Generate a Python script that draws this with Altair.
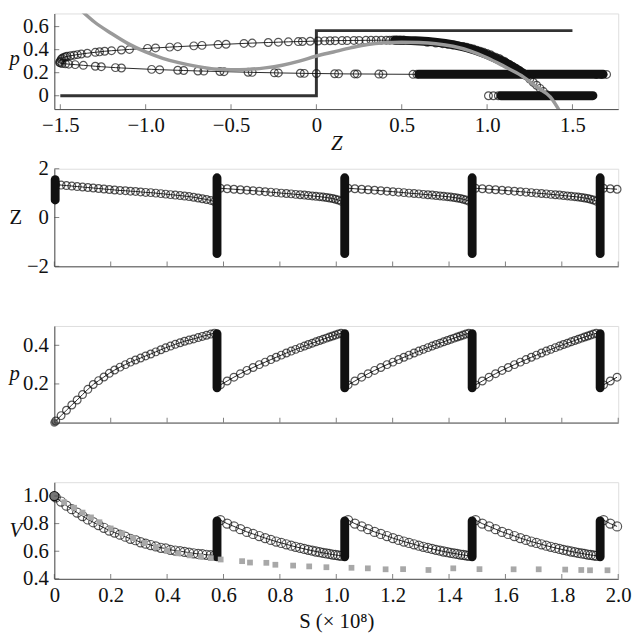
import altair as alt
import pandas as pd

FONT = "Liberation Serif"
FS = 21
INK = "#111111"
AXC = "#4a4a4a"
GRAY = "#9a9a9a"
W = 572

# ---------------- Panel 1 : phase plane (Z, p) ----------------
p1_xticks = [-1.5, -1.0, -0.5, 0.0, 0.5, 1.0, 1.5]
p1_yticks = [0.0, 0.2, 0.4, 0.6]

step_Z = [-1.5, 0.0, 0.0, 1.5]
step_p = [0.0, 0.0, 0.565, 0.565]

null_Z = [-1.37, -1.30, -1.20, -1.10, -1.00, -0.90, -0.80, -0.70, -0.60, -0.50,
          -0.40, -0.30, -0.20, -0.10, 0.00, 0.10, 0.20, 0.30, 0.40, 0.50,
          0.60, 0.70, 0.80, 0.90, 1.00, 1.10, 1.20, 1.30, 1.37, 1.42]
null_p = [0.73, 0.64, 0.54, 0.45, 0.38, 0.325, 0.285, 0.255, 0.232, 0.226,
          0.229, 0.242, 0.265, 0.30, 0.345, 0.38, 0.415, 0.445, 0.46, 0.465,
          0.462, 0.452, 0.43, 0.39, 0.33, 0.255, 0.175, 0.065, -0.01, -0.12]

upper_Z = [-1.50, -1.495, -1.49, -1.48, -1.47, -1.46, -1.44, -1.42, -1.40, -1.377,
           -1.342, -1.295, -1.27, -1.24, -1.20, -1.142, -1.095, -0.989, -0.942, -0.859,
           -0.812, -0.718, -0.67, -0.576, -0.529, -0.424, -0.376, -0.282, -0.223, -0.164,
           -0.106, -0.082, -0.036, 0.01, 0.048, 0.08, 0.11, 0.15, 0.18, 0.22,
           0.25, 0.29, 0.32, 0.35, 0.38, 0.41, 0.43, 0.45, 0.47, 0.49, 0.51]
upper_p = [0.30, 0.315, 0.325, 0.333, 0.338, 0.342, 0.347, 0.352, 0.357, 0.362,
           0.369, 0.377, 0.381, 0.386, 0.391, 0.397, 0.402, 0.411, 0.415, 0.422,
           0.426, 0.433, 0.437, 0.444, 0.447, 0.454, 0.457, 0.462, 0.465, 0.468,
           0.470, 0.471, 0.473, 0.475, 0.476, 0.477, 0.478, 0.479, 0.479, 0.480,
           0.480, 0.481, 0.481, 0.482, 0.482, 0.482, 0.482, 0.483, 0.483, 0.483, 0.483]

lower_Z = [-1.505, -1.50, -1.49, -1.47, -1.45, -1.413, -1.365, -1.295, -1.26, -1.177,
           -1.142, -0.965, -0.918, -0.812, -0.777, -0.694, -0.659, -0.565, -0.541, -0.40,
           -0.376, -0.246, -0.223, -0.094, -0.071, 0.0, 0.107, 0.13, 0.224, 0.239,
           0.366, 0.39, 0.566, 0.589, 1.64, 1.67, 1.70]
lower_p = [0.29, 0.285, 0.28, 0.277, 0.274, 0.27, 0.264, 0.256, 0.252, 0.244,
           0.241, 0.229, 0.226, 0.221, 0.219, 0.215, 0.214, 0.21, 0.209, 0.204,
           0.203, 0.199, 0.198, 0.195, 0.194, 0.193, 0.191, 0.19, 0.189, 0.189,
           0.188, 0.187, 0.186, 0.186, 0.185, 0.185, 0.185]

band_Z0 = [0.60, 1.08]     # dense runs of circles (start Z)
band_Z1 = [1.68, 1.62]     # (end Z)
band_p = [0.186, 0.0]

start_Z = [1.008, 1.037, 1.066]
start_p = [0.0, 0.0, 0.0]

mani_Z = [1.23, 1.18, 1.13, 1.08, 1.03, 0.98, 0.93, 0.88, 0.83, 0.78, 0.73, 0.68, 0.63, 0.58, 0.52, 0.46]
mani_p = [0.175, 0.225, 0.27, 0.305, 0.338, 0.368, 0.394, 0.416, 0.434, 0.448, 0.459, 0.467, 0.473, 0.477, 0.480, 0.482]

# ---------------- Panels 2-4 : time series over S ----------------
s_ticks = [0.0, 0.2, 0.4, 0.6, 0.8, 1.0, 1.2, 1.4, 1.6, 1.8, 2.0]
z_ticks = [-2, 0, 2]
p_ticks = [0.2, 0.4]
v_ticks = [0.4, 0.6, 0.8, 1.0]

S1 = [0.005, 0.024, 0.043, 0.062, 0.081, 0.100, 0.119, 0.138, 0.157, 0.176,
      0.195, 0.214, 0.233, 0.252, 0.270, 0.288, 0.306, 0.324, 0.342, 0.360,
      0.378, 0.395, 0.412, 0.429, 0.446, 0.462, 0.478, 0.494, 0.510, 0.525,
      0.540, 0.555, 0.568]
Z1 = [1.35, 1.33, 1.31, 1.29, 1.27, 1.25, 1.23, 1.21, 1.19, 1.17,
      1.15, 1.13, 1.11, 1.10, 1.08, 1.07, 1.05, 1.03, 1.02, 1.00,
      0.98, 0.96, 0.94, 0.92, 0.90, 0.88, 0.86, 0.83, 0.80, 0.77,
      0.74, 0.70, 0.65]
P1 = [0.008, 0.036, 0.064, 0.091, 0.117, 0.145, 0.172, 0.197, 0.217, 0.236,
      0.255, 0.272, 0.287, 0.300, 0.313, 0.324, 0.334, 0.345, 0.355, 0.366,
      0.377, 0.387, 0.396, 0.405, 0.413, 0.421, 0.427, 0.433, 0.440, 0.446,
      0.452, 0.458, 0.463]
V1 = [0.99, 0.96, 0.93, 0.905, 0.88, 0.855, 0.83, 0.81, 0.79, 0.77,
      0.75, 0.735, 0.72, 0.705, 0.69, 0.68, 0.665, 0.655, 0.645, 0.635,
      0.625, 0.62, 0.61, 0.605, 0.60, 0.595, 0.59, 0.585, 0.58, 0.578,
      0.574, 0.571, 0.568]

# profile of the later cycles, as offsets of S after each jump
D2 = [0.012, 0.036, 0.060, 0.083, 0.106, 0.128, 0.150, 0.171, 0.191, 0.210,
      0.228, 0.246, 0.263, 0.279, 0.295, 0.310, 0.324, 0.338, 0.351, 0.364,
      0.376, 0.388, 0.399, 0.410, 0.420, 0.430, 0.440]
Z2 = [1.20, 1.18, 1.16, 1.14, 1.12, 1.10, 1.08, 1.06, 1.04, 1.02,
      1.00, 0.985, 0.97, 0.95, 0.935, 0.92, 0.90, 0.885, 0.87, 0.855,
      0.84, 0.82, 0.80, 0.78, 0.75, 0.72, 0.67]
P2 = [0.195, 0.215, 0.235, 0.253, 0.270, 0.285, 0.300, 0.313, 0.326, 0.338,
      0.349, 0.360, 0.370, 0.379, 0.388, 0.396, 0.404, 0.411, 0.418, 0.425,
      0.431, 0.437, 0.443, 0.448, 0.453, 0.458, 0.462]
V2 = [0.825, 0.80, 0.78, 0.76, 0.74, 0.725, 0.71, 0.695, 0.682, 0.67,
      0.66, 0.65, 0.64, 0.632, 0.624, 0.617, 0.61, 0.604, 0.598, 0.593,
      0.588, 0.584, 0.58, 0.576, 0.573, 0.57, 0.567]

jumps = [0.577, 1.030, 1.482, 1.936]
bar_Z = [-1.48, 1.63]
bar_p = [0.18, 0.46]
bar_V = [0.56, 0.82]
init_barS = [0.003]
init_barZ = [0.72, 1.55]

gS = [0.035, 0.07, 0.10, 0.13, 0.16, 0.20, 0.24, 0.28, 0.32, 0.36,
      0.40, 0.44, 0.48, 0.52, 0.555, 0.59, 0.666, 0.694, 0.752, 0.784,
      0.847, 0.904, 0.965, 1.054, 1.112, 1.175, 1.237, 1.327, 1.415, 1.508,
      1.629, 1.718, 1.812, 1.869, 1.90, 1.962]
gV = [0.955, 0.915, 0.88, 0.845, 0.81, 0.765, 0.73, 0.695, 0.66, 0.63,
      0.605, 0.585, 0.57, 0.56, 0.55, 0.54, 0.528, 0.518, 0.516, 0.502,
      0.496, 0.49, 0.484, 0.48, 0.476, 0.469, 0.47, 0.464, 0.476, 0.47,
      0.469, 0.469, 0.467, 0.464, 0.462, 0.462]

init_S = [0.0]
init_p = [0.0]
init_V = [1.0]

# ---------------- tables ----------------
rows = []
for s, z, p, v in zip(S1, Z1, P1, V1):
    rows.append(dict(S=s, Z=z, p=p, V=v, cyc=0))
for k, j in enumerate(jumps):
    for d, z, p, v in zip(D2, Z2, P2, V2):
        if j + d <= 2.0:
            rows.append(dict(S=j + d, Z=z, p=p, V=v, cyc=k + 1))
ts = pd.DataFrame(rows)

bars = pd.DataFrame({"S": jumps})
bars["z0"], bars["z1"] = bar_Z[0], bar_Z[1]
bars["p0"], bars["p1"] = bar_p[0], bar_p[1]
bars["v0"], bars["v1"] = bar_V[0], bar_V[1]
ibar = pd.DataFrame({"S": init_barS, "z0": [init_barZ[0]], "z1": [init_barZ[1]]})
gdf = pd.DataFrame({"S": gS, "V": gV})
idf = pd.DataFrame({"S": init_S, "p": init_p, "V": init_V})

step_df = pd.DataFrame({"Z": step_Z, "p": step_p, "i": list(range(len(step_Z)))})
null_df = pd.DataFrame({"Z": null_Z, "p": null_p})
up_df = pd.DataFrame({"Z": upper_Z, "p": upper_p})
lo_df = pd.DataFrame({"Z": lower_Z, "p": lower_p})
band_df = pd.DataFrame({"Za": band_Z0, "Zb": band_Z1, "p": band_p})
st_df = pd.DataFrame({"Z": start_Z, "p": start_p})
mani_df = pd.DataFrame({"Z": mani_Z, "p": mani_p})
seg1_df = pd.DataFrame({"Z": Z1, "p": P1})


def axis(**kw):
    d = dict(ticks=False, grid=False, domainColor=AXC, domainWidth=1,
             labelFont=FONT, labelFontSize=FS, labelColor=INK, labelFlush=False,
             labelOverlap=False, titleFont=FONT, titleFontSize=FS,
             titleFontWeight="normal", titleColor=INK)
    d.update(kw)
    return alt.Axis(**d)


def yaxis(vals, expr, title, ty, italic=True):
    kw = dict(values=vals, labelExpr=expr, labelPadding=6, title=title,
              titleAngle=0, titleAlign="left", titleBaseline="middle",
              titleX=-46, titleY=ty)
    if italic:
        kw["titleFontStyle"] = "italic"
    return axis(**kw)


def panel(layers_spec, xs, xa, ys, ya, xticks, yticks, H):
    charts = []
    for df, mark, e in layers_spec:
        e = dict(e)
        xf = e.pop("x")
        yf = e.pop("y")
        m = dict(mark)
        mtype = m.pop("type")
        c = getattr(alt.Chart(df), "mark_" + mtype)(**m)
        enc = dict(x=alt.X(xf, type="quantitative", scale=xs, axis=xa),
                   y=alt.Y(yf, type="quantitative", scale=ys, axis=ya))
        if "x2" in e:
            enc["x2"] = alt.X2(e.pop("x2"))
        if "y2" in e:
            enc["y2"] = alt.Y2(e.pop("y2"))
        enc.update(e)
        charts.append(c.encode(**enc))
    tx = alt.Chart(pd.DataFrame({"v": xticks})).mark_tick(
        orient="vertical", size=5, thickness=1, color=AXC).encode(
        x=alt.X("v", type="quantitative", scale=xs, axis=xa), y=alt.value(H - 2.5))
    ty = alt.Chart(pd.DataFrame({"v": yticks})).mark_tick(
        orient="horizontal", size=5, thickness=1, color=AXC).encode(
        y=alt.Y("v", type="quantitative", scale=ys, axis=ya), x=alt.value(2.5))
    return alt.layer(*charts, tx, ty).properties(width=W, height=H)


CIRC = dict(type="point", shape="circle", filled=False, size=62, strokeWidth=1.2, color=INK)

# ---- Panel 1
H1 = 97
xs1 = alt.Scale(domain=[-1.535, 1.768], nice=False, zero=False)
ys1 = alt.Scale(domain=[-0.116, 0.714], nice=False, zero=False)
xa1 = axis(values=p1_xticks, labelPadding=6, title="Z", titleFontStyle="italic", titlePadding=-3,
           labelExpr="datum.value == 0 ? '0' : replace(format(datum.value, '.1f'), '-', '\u2212')")
ya1 = yaxis(p1_yticks, "datum.value == 0 ? '0' : format(datum.value, '.1f')", "p", 46)

panel1 = panel([
    (step_df, dict(type="line", color="#333333", strokeWidth=3), dict(x="Z", y="p", order=alt.Order("i:Q"))),
    (up_df, dict(type="line", color=INK, strokeWidth=0.9), dict(x="Z", y="p")),
    (lo_df, dict(type="line", color=INK, strokeWidth=0.9), dict(x="Z", y="p")),
    (up_df, CIRC, dict(x="Z", y="p")),
    (lo_df, CIRC, dict(x="Z", y="p")),
    (st_df, CIRC, dict(x="Z", y="p")),
    (seg1_df, CIRC, dict(x="Z", y="p")),
    (band_df, dict(type="rule", color=INK, strokeWidth=9, strokeCap="round"), dict(x="Za", x2="Zb", y="p")),
    (mani_df, dict(type="line", color=INK, strokeWidth=9, strokeCap="round", strokeJoin="round",
                   interpolate="monotone"), dict(x="Z", y="p")),
    (null_df, dict(type="line", color=GRAY, strokeWidth=3.5, interpolate="monotone", clip=True),
     dict(x="Z", y="p")),
], xs1, xa1, ys1, ya1, p1_xticks, p1_yticks, H1)

# ---- shared S axis
xsS = alt.Scale(domain=[0, 2.0], nice=False, zero=False)
xaS_plain = axis(values=s_ticks, labels=False, title=None)
xaS_lab = axis(values=s_ticks, labelPadding=6, title="S (\u00d7 10\u2078)", titlePadding=5,
               labelExpr="datum.value == 0 ? '0' : format(datum.value, '.1f')")

LINE = dict(type="line", color=INK, strokeWidth=0.9)
BAR = dict(type="rule", color=INK, strokeWidth=9, strokeCap="round")

# ---- Panel 2 : Z
H2 = 99
ys2 = alt.Scale(domain=[-2, 2], nice=False, zero=False)
ya2 = yaxis(z_ticks, "replace(format(datum.value, 'd'), '-', '\u2212')", "Z", 50, italic=False)
panel2 = panel([
    (ts, LINE, dict(x="S", y="Z", detail="cyc:N")),
    (ts, CIRC, dict(x="S", y="Z")),
    (bars, BAR, dict(x="S", y="z0", y2="z1")),
    (ibar, BAR, dict(x="S", y="z0", y2="z1")),
], xsS, xaS_plain, ys2, ya2, s_ticks, z_ticks, H2)

# ---- Panel 3 : p
H3 = 98
ys3 = alt.Scale(domain=[0, 0.5], nice=False, zero=False)
ya3 = yaxis(p_ticks, "format(datum.value, '.1f')", "p", 48)
panel3 = panel([
    (ts, LINE, dict(x="S", y="p", detail="cyc:N")),
    (ts, CIRC, dict(x="S", y="p")),
    (bars, BAR, dict(x="S", y="p0", y2="p1")),
    (idf, dict(type="point", shape="circle", filled=True, size=70, color="#333333"), dict(x="S", y="p")),
], xsS, xaS_plain, ys3, ya3, s_ticks, p_ticks, H3)

# ---- Panel 4 : V
H4 = 98
ys4 = alt.Scale(domain=[0.4, 1.1], nice=False, zero=False)
ya4 = yaxis(v_ticks, "format(datum.value, '.1f')", "V", 49)
CIRC4 = dict(CIRC)
CIRC4["size"] = 85
panel4 = panel([
    (ts, LINE, dict(x="S", y="V", detail="cyc:N")),
    (ts, CIRC4, dict(x="S", y="V")),
    (bars, BAR, dict(x="S", y="v0", y2="v1")),
    (gdf, dict(type="point", shape="square", filled=True, size=34, color="#a8a8a8", opacity=1),
     dict(x="S", y="V")),
    (idf, dict(type="point", shape="circle", filled=True, size=85, color="#777777", opacity=1,
               stroke=INK, strokeWidth=1.2), dict(x="S", y="V")),
], xsS, xaS_lab, ys4, ya4, s_ticks, v_ticks, H4)

chart = alt.vconcat(panel1, panel2, panel3, panel4, spacing=60.5, bounds="flush").properties(
    padding={"left": 0, "top": 0, "right": 0, "bottom": 4}
).configure_view(strokeWidth=0).configure(background="white")

chart.save("out.html", embed_options={"renderer": "svg", "actions": False})
